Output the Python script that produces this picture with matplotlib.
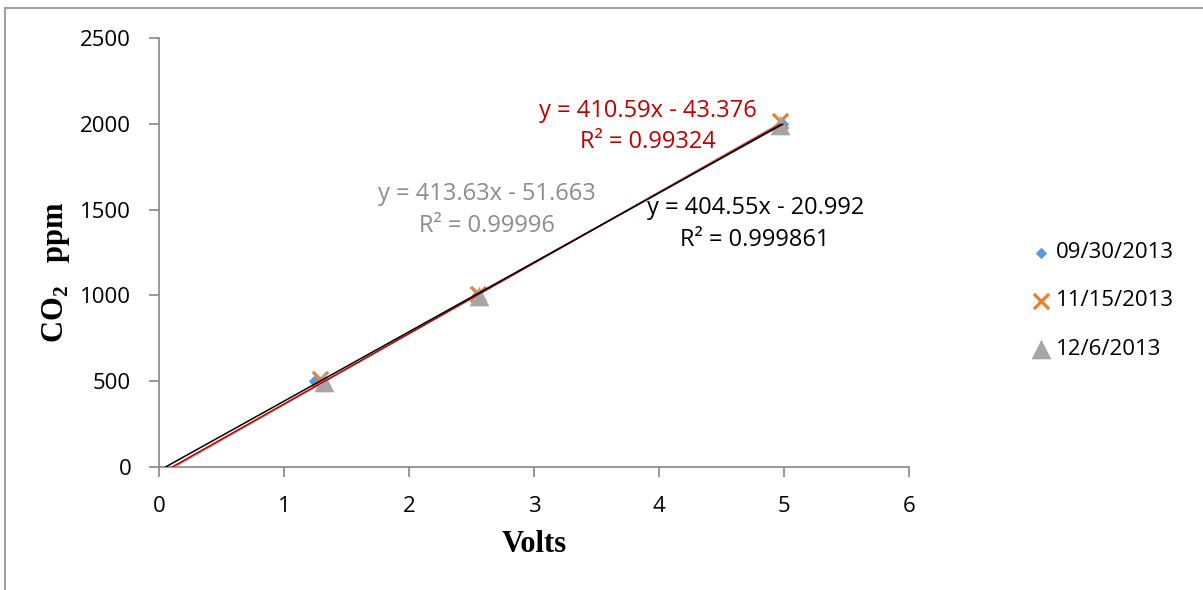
import matplotlib.pyplot as plt
from matplotlib.lines import Line2D
import numpy as np

# calibration points: sensor output (V) vs reference CO2 (ppm)
dates = ['09/30/2013', '11/15/2013', '12/6/2013']
volts_0930 = [1.24, 2.54, 4.99]
ppm_0930 = [500, 1000, 2000]
volts_1115 = [1.29, 2.55, 4.97]
ppm_1115 = [515, 1010, 2015]
volts_1206 = [1.32, 2.56, 4.97]
ppm_1206 = [495, 995, 1995]

# fitted linear trendlines (slope, intercept, R^2)
slopes = [404.55, 410.59, 413.63]
intercepts = [-20.992, -43.376, -51.663]
r2_labels = ['0.999861', '0.99324', '0.99996']

plt.rcParams['font.family'] = ['Open Sans', 'DejaVu Sans']
plt.rcParams['mathtext.fontset'] = 'custom'
plt.rcParams['mathtext.bf'] = 'Liberation Serif:bold'
plt.rcParams['mathtext.rm'] = 'Liberation Serif:bold'

W, H = 1203, 590
fig = plt.figure(figsize=(W / 100, H / 100), dpi=100)
ax = fig.add_axes([159 / W, 1 - 467 / H, 750 / W, 429 / H])

spine_col = '#868686'
series = [
    (volts_0930, ppm_0930, dict(marker='D', s=34, color='#5B9BD5', linewidths=0), 'black'),
    (volts_1115, ppm_1115, dict(marker='x', s=120, color='#ED7D31', linewidths=2.3), '#C00000'),
    (volts_1206, ppm_1206, dict(marker='^', s=200, color='#A5A5A5', linewidths=0), '#A5A5A5'),
]

# trendlines run from the x-intercept to the last calibration point
for i in [2, 1, 0]:
    xs, ys, mk, lc = series[i]
    x0 = -intercepts[i] / slopes[i]
    xl = np.array([x0, max(xs)])
    ax.plot(xl, slopes[i] * xl + intercepts[i], color=lc, lw=1.1, zorder=3)

for i, (xs, ys, mk, lc) in enumerate(series):
    ax.scatter(xs, ys, label=dates[i], zorder=2, **mk)

ax.set_xlim(0, 6)
ax.set_ylim(0, 2500)
ax.set_xticks(range(0, 7))
ax.set_yticks(range(0, 2501, 500))
for s in ['top', 'right']:
    ax.spines[s].set_visible(False)
for s in ['left', 'bottom']:
    ax.spines[s].set_color(spine_col)
    ax.spines[s].set_linewidth(1.2)
ax.tick_params(direction='out', length=7, width=1.2, color=spine_col,
               labelsize=16)
ax.tick_params(axis='y', pad=13)
ax.tick_params(axis='x', pad=14)

# axis titles
fig.text(534 / W, 1 - 545 / H, 'Volts', fontfamily='Liberation Serif',
         fontweight='bold', fontsize=22, ha='center', va='center')
fig.text(56 / W, 1 - 272 / H, r'CO$_\mathbf{2}$   ppm', fontfamily='Liberation Serif',
         fontweight='bold', fontsize=22, ha='center', va='center', rotation=90)

tkw = dict(fontsize=17, ha='center', va='center')
ax.text(3.91, 2075, f'y = {slopes[1]}x - {-intercepts[1]}', color='#C00000', **tkw)
ax.text(3.91, 1894, f'R² = {r2_labels[1]}', color='#C00000', **tkw)
ax.text(2.62, 1591, f'y = {slopes[2]}x - {-intercepts[2]}', color='#8C8C8C', **tkw)
ax.text(2.62, 1404, f'R² = {r2_labels[2]}', color='#8C8C8C', **tkw)
ax.text(4.77, 1509, f'y = {slopes[0]}x - {-intercepts[0]}', color='black', **tkw)
ax.text(4.77, 1323, f'R² = {r2_labels[0]}', color='black', **tkw)

ax.legend(loc='center left', bbox_to_anchor=(1028 / W, 1 - 301 / H),
          bbox_transform=fig.transFigure, frameon=False,
          fontsize=16, handletextpad=0.05, labelspacing=1.22,
          handlelength=1.2, borderaxespad=0, borderpad=0)

# chart area border (top and left edges)
fig.add_artist(Line2D([5 / W, 1], [1 - 8 / H, 1 - 8 / H],
                      transform=fig.transFigure, color='#A0A0A0', lw=1.5))
fig.add_artist(Line2D([5 / W, 5 / W], [0, 1 - 8 / H],
                      transform=fig.transFigure, color='#A0A0A0', lw=1.5))

fig.savefig('out.png', dpi=100)
